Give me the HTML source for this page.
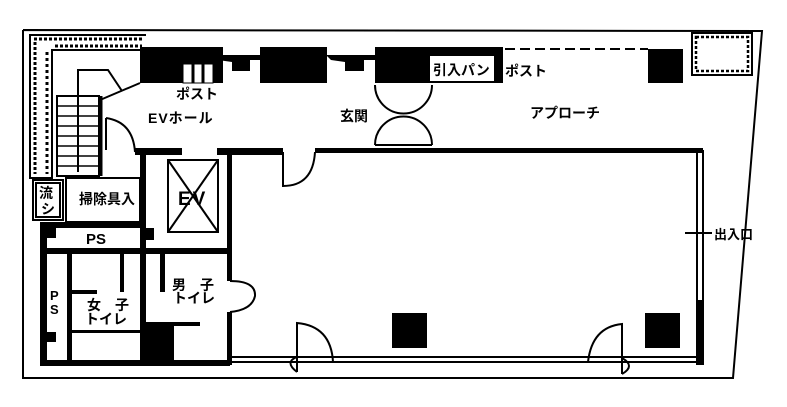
<!DOCTYPE html>
<html><head><meta charset="utf-8"><style>
html,body{margin:0;padding:0;background:#fff;}
svg{display:block;}
text{font-family:"Liberation Sans","Noto Sans CJK JP",sans-serif;font-weight:bold;fill:#000;}
</style></head><body>
<svg width="787" height="407" viewBox="0 0 787 407" xmlns="http://www.w3.org/2000/svg">
<g fill="none" stroke="#000" stroke-width="2">
<polyline points="23,30 762,31 733,378 23,378 23,30"/>
<polyline points="146,35 30,35 30,178 52,178 52,50 146,50" stroke-width="2"/>
<line x1="34" y1="39" x2="142" y2="39" stroke-dasharray="3,2" stroke-width="3"/>
<line x1="35" y1="42" x2="35" y2="174" stroke-dasharray="3,2" stroke-width="3"/>
<line x1="47" y1="52" x2="47" y2="174" stroke-dasharray="3,3" stroke-width="3"/>
<line x1="55" y1="46" x2="142" y2="46" stroke-dasharray="3,2" stroke-width="3"/>
<rect x="692" y="33" width="60" height="42"/>
<rect x="696" y="37" width="52" height="34" stroke-dasharray="3,2" stroke-width="2.5"/>
<polyline points="78,172 78,70 108,70 122,91" />
<line x1="100" y1="100" x2="140" y2="83"/>
<rect x="57" y="96" width="42" height="80"/>
<g stroke-width="1.5">
<line x1="57" y1="106" x2="99" y2="106"/><line x1="57" y1="116" x2="99" y2="116"/>
<line x1="57" y1="126" x2="99" y2="126"/><line x1="57" y1="136" x2="99" y2="136"/>
<line x1="57" y1="146" x2="99" y2="146"/><line x1="57" y1="156" x2="99" y2="156"/>
<line x1="57" y1="166" x2="99" y2="166"/>
</g>
<line x1="101" y1="96" x2="101" y2="176" stroke-width="3"/>
<path d="M106,118 Q133,122 135,152"/>
<line x1="106" y1="118" x2="106" y2="150"/>
<line x1="505" y1="49" x2="648" y2="49" stroke-dasharray="10,5"/>
<path d="M375,85 A20,20 0 0 0 432,85"/>
<path d="M375,145 A28,28 0 0 1 432,145"/>
<line x1="375" y1="145" x2="432" y2="145"/>
<path d="M283,152 L283,186 Q313,186 315,152"/>
<line x1="697" y1="150" x2="697" y2="365"/>
<line x1="703" y1="150" x2="703" y2="365"/>
<line x1="685" y1="233" x2="712" y2="233"/>
<line x1="230" y1="357" x2="703" y2="357"/>
<line x1="230" y1="362" x2="703" y2="362"/>
<path d="M297,372 L297,323 Q331,326 333,362"/>
<path d="M297,357 Q284,362 297,372"/>
<path d="M622,374 L622,324 Q592,327 588,362"/>
<path d="M622,358 Q636,366 622,374"/>
<rect x="168" y="160" width="50" height="72"/>
<line x1="168" y1="160" x2="218" y2="232"/><line x1="218" y1="160" x2="168" y2="232"/>
<path d="M230,281 Q256,281 255,296 Q252,310 230,312"/>
<rect x="33" y="180" width="30" height="40"/>
<rect x="36" y="183" width="24" height="34"/>
<rect x="66" y="178" width="74" height="44"/>
</g>
<g fill="#000">
<rect x="140" y="47" width="83" height="36"/>
<rect x="260" y="47" width="67" height="36"/>
<rect x="375" y="47" width="55" height="36"/>
<rect x="430" y="47" width="73" height="36"/>
<rect x="648" y="49" width="35" height="34"/>
<path d="M213,55 L270,55 L265,60 L250,60 L250,71 L232,71 L232,62 L218,60 Z"/>
<path d="M326,55 L383,55 L378,60 L364,60 L364,71 L345,71 L345,62 L331,60 Z"/>
<rect x="135" y="148" width="47" height="7"/>
<rect x="217" y="148" width="66" height="7"/>
<rect x="315" y="148" width="388" height="5"/>
<rect x="140" y="148" width="6" height="217"/>
<rect x="227" y="148" width="5" height="133"/>
<rect x="227" y="312" width="5" height="53"/>
<rect x="697" y="300" width="6" height="65"/>
<rect x="40" y="222" width="106" height="6"/>
<rect x="40" y="222" width="7" height="143"/>
<rect x="40" y="248" width="190" height="6"/>
<rect x="40" y="360" width="190" height="6"/>
<rect x="140" y="228" width="14" height="12"/>
<rect x="44" y="228" width="12" height="10"/>
<rect x="44" y="332" width="12" height="10"/>
<rect x="67" y="254" width="5" height="110"/>
<rect x="120" y="254" width="4" height="38"/>
<rect x="160" y="254" width="5" height="38"/>
<rect x="72" y="290" width="25" height="4"/>
<rect x="72" y="330" width="68" height="3"/>
<rect x="142" y="322" width="32" height="40"/>
<rect x="174" y="322" width="26" height="4"/>
<rect x="392" y="313" width="35" height="35"/>
<rect x="645" y="313" width="35" height="35"/>
</g>
<rect x="183" y="64" width="30" height="19" fill="#fff" stroke="#000" stroke-width="1"/>
<line x1="193" y1="64" x2="193" y2="83" stroke="#000" stroke-width="3"/>
<line x1="203" y1="64" x2="203" y2="83" stroke="#000" stroke-width="3"/>
<rect x="430" y="56" width="64" height="25" fill="#fff"/>
<g font-size="14">
<text x="176" y="99">ポスト</text>
<text x="148" y="123" letter-spacing="1">EVホール</text>
<text x="340" y="121">玄関</text>
<text x="433" y="75">引入パン</text>
<text x="505" y="76">ポスト</text>
<text x="530" y="118">アプローチ</text>
<text x="79" y="204">掃除具入</text>
<text x="86" y="244" font-size="15">PS</text>
<text x="714" y="239" font-size="13">出入口</text>
<text x="172" y="290">男　子</text>
<text x="173" y="303">トイレ</text>
<text x="87" y="310">女　子</text>
<text x="85" y="324">トイレ</text>
<text x="39" y="198">流</text>
<text x="41" y="214">シ</text>
</g>
<text x="178" y="205" font-size="19" font-weight="normal" letter-spacing="2">EV</text>
<text x="50" y="300" font-size="13">P</text>
<text x="50" y="314" font-size="13">S</text>
</svg>
</body></html>
